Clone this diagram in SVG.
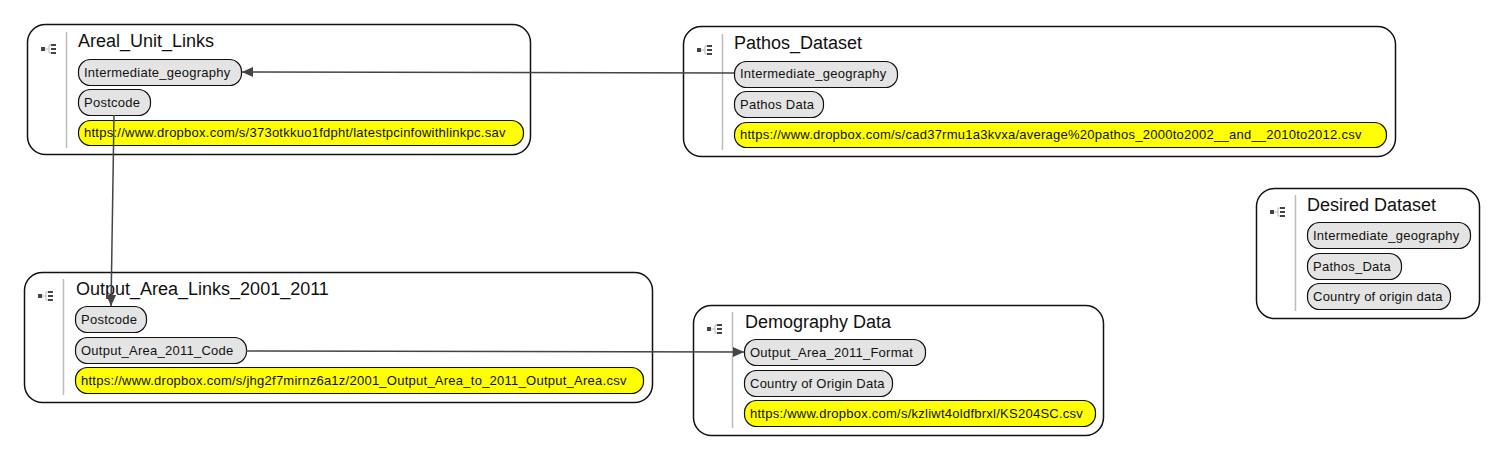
<svg xmlns="http://www.w3.org/2000/svg" width="1504" height="461" viewBox="0 0 1504 461">
<style>
text{font-family:"Liberation Sans",Arial,sans-serif;fill:#111}
.box{fill:#fff;stroke:#111;stroke-width:1.5}
.sep{stroke:#bbb;stroke-width:1.5}
.p{fill:#e4e4e4;stroke:#111;stroke-width:1.2}
.u{fill:#ffff00;stroke:#111;stroke-width:1.2}
.t{font-size:18px}
.l{font-size:13px;letter-spacing:.25px}
.ic{fill:#444}
.ig{fill:none;stroke:#bbb;stroke-width:1}
.c{fill:none;stroke:#444;stroke-width:1.5;marker-end:url(#a)}
</style>
<defs>
<marker id="a" markerUnits="userSpaceOnUse" markerWidth="12" markerHeight="12" refX="11" refY="6" orient="auto"><path d="M0 1L11 6L0 11Z" fill="#444"/></marker>
<g id="ic"><path class="ig" d="M4 5H8M8 1V9M8 1H10M8 9H10"/><rect x="0" y="3" width="4" height="4" class="ic"/><rect x="10" y="0" width="5" height="2" class="ic"/><rect x="10" y="4" width="5" height="2" class="ic"/><rect x="10" y="8" width="5" height="2" class="ic"/></g>
</defs>
<g id="areal">
<rect class="box" x="27.500" y="24.500" width="503" height="130" rx="18"/>
<use href="#ic" x="41" y="44"/><line class="sep" x1="66.500" y1="32" x2="66.500" y2="148"/>
<text class="t" x="78" y="47">Areal_Unit_Links</text>
<rect class="p" x="78.500" y="59.500" width="163" height="26" rx="12"/><text class="l" x="84" y="77">Intermediate_geography</text>
<rect class="p" x="78.500" y="89.500" width="72" height="26" rx="12"/><text class="l" x="84" y="107">Postcode</text>
<rect class="u" x="78.500" y="120.500" width="445" height="25" rx="12"/><text class="l" x="84" y="137">https://www.dropbox.com/s/373otkkuo1fdpht/latestpcinfowithlinkpc.sav</text>
</g>
<g id="pathos">
<rect class="box" x="683.500" y="26.500" width="712" height="130" rx="18"/>
<use href="#ic" x="697" y="45"/><line class="sep" x1="722.500" y1="34" x2="722.500" y2="150"/>
<text class="t" x="734" y="49">Pathos_Dataset</text>
<rect class="p" x="734.500" y="61.500" width="163" height="26" rx="12"/><text class="l" x="740" y="78">Intermediate_geography</text>
<rect class="p" x="734.500" y="91.500" width="89" height="26" rx="12"/><text class="l" x="740" y="109">Pathos Data</text>
<rect class="u" x="734.500" y="122.500" width="652" height="25" rx="12"/><text class="l" x="740" y="139">https://www.dropbox.com/s/cad37rmu1a3kvxa/average%20pathos_2000to2002__and__2010to2012.csv</text>
</g>
<g id="desired">
<rect class="box" x="1256.500" y="188.500" width="223" height="130" rx="18"/>
<use href="#ic" x="1270" y="207"/><line class="sep" x1="1295.500" y1="195" x2="1295.500" y2="311"/>
<text class="t" x="1307" y="211">Desired Dataset</text>
<rect class="p" x="1307.500" y="222.500" width="163" height="26" rx="12"/><text class="l" x="1313" y="240">Intermediate_geography</text>
<rect class="p" x="1307.500" y="253.500" width="94" height="26" rx="12"/><text class="l" x="1313" y="271">Pathos_Data</text>
<rect class="p" x="1307.500" y="283.500" width="143" height="26" rx="12"/><text class="l" x="1313" y="301">Country of origin data</text>
</g>
<g id="output">
<rect class="box" x="24.500" y="272.500" width="628" height="130" rx="18"/>
<use href="#ic" x="38" y="291"/><line class="sep" x1="63.500" y1="279" x2="63.500" y2="395"/>
<text class="t" x="76" y="295">Output_Area_Links_2001_2011</text>
<rect class="p" x="75.500" y="306.500" width="71" height="26" rx="12"/><text class="l" x="81" y="324">Postcode</text>
<rect class="p" x="75.500" y="337.500" width="171" height="26" rx="12"/><text class="l" x="81" y="355">Output_Area_2011_Code</text>
<rect class="u" x="75.500" y="367.500" width="568" height="26" rx="12"/><text class="l" x="81" y="385">https://www.dropbox.com/s/jhg2f7mirnz6a1z/2001_Output_Area_to_2011_Output_Area.csv</text>
</g>
<g id="demography">
<rect class="box" x="693.500" y="305.500" width="410" height="130" rx="18"/>
<use href="#ic" x="707" y="324"/><line class="sep" x1="732.500" y1="312" x2="732.500" y2="428"/>
<text class="t" x="745" y="328">Demography Data</text>
<rect class="p" x="744.500" y="339.500" width="181" height="26" rx="12"/><text class="l" x="750" y="357">Output_Area_2011_Format</text>
<rect class="p" x="744.500" y="370.500" width="148" height="26" rx="12"/><text class="l" x="750" y="388">Country of Origin Data</text>
<rect class="u" x="744.500" y="400.500" width="351" height="26" rx="12"/><text class="l" x="750" y="418">https:/www.dropbox.com/s/kzliwt4oldfbrxl/KS204SC.csv</text>
</g>
<g id="connectors">
<path class="c" d="M734 73L242 72"/>
<path class="c" d="M114 115L111 306"/>
<path class="c" d="M246 351L744 352"/>
</g>
</svg>
